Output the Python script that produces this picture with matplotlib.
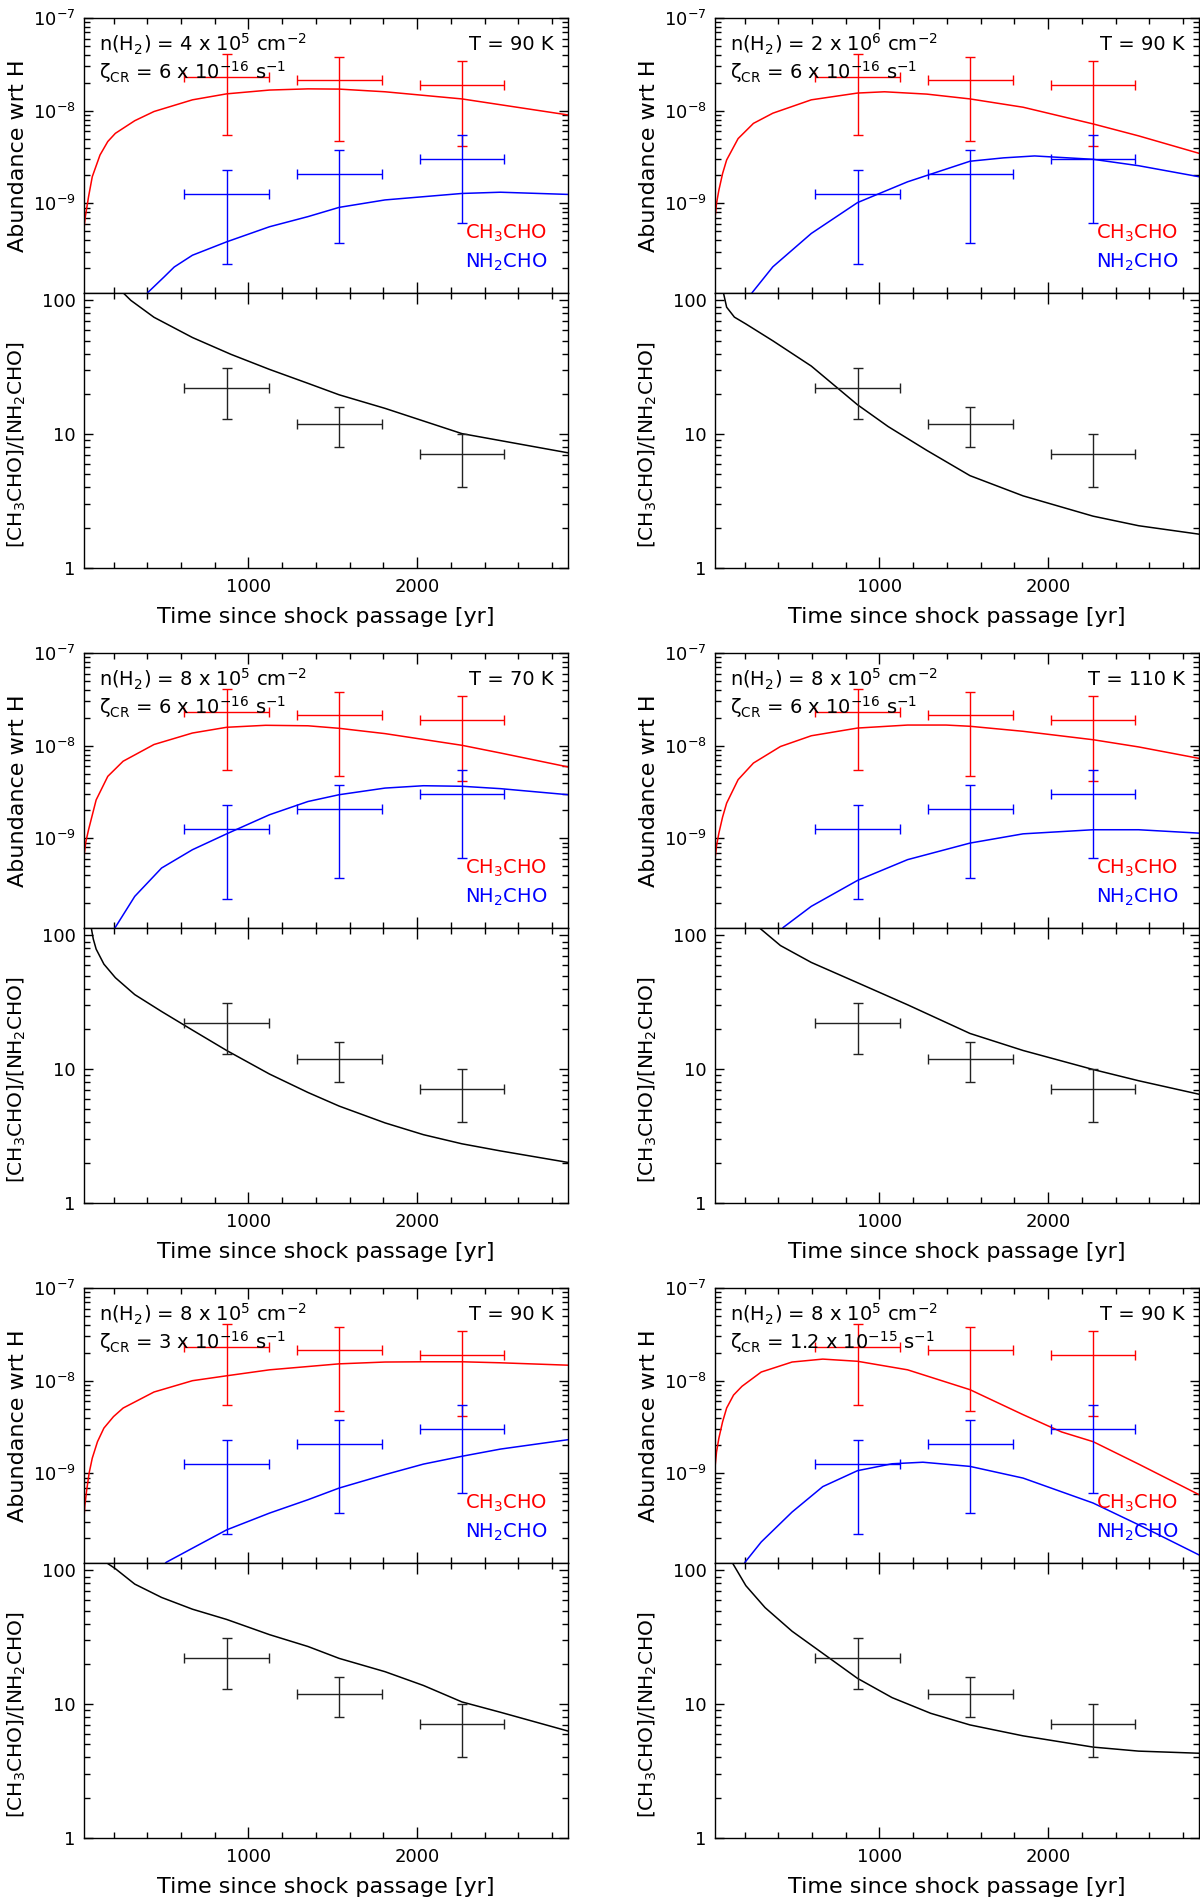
import math
import matplotlib
matplotlib.use("Agg")
import matplotlib.pyplot as plt
from matplotlib.ticker import LogLocator, MultipleLocator, FixedLocator, FuncFormatter, NullFormatter

plt.rcParams['font.family'] = ['DejaVu Sans']
plt.rcParams['mathtext.default'] = 'regular'

# observations (same in every panel)
obs_t = [870, 1540, 2265]
obs_terr = [250, 250, 250]
ch3cho_obs = [2.32e-8, 2.14e-8, 1.90e-8]
ch3cho_hi = [4.1e-8, 3.8e-8, 3.4e-8]
ch3cho_lo = [5.5e-9, 4.75e-9, 4.2e-9]
nh2cho_obs = [1.26e-9, 2.09e-9, 3.04e-9]
nh2cho_hi = [2.27e-9, 3.77e-9, 5.48e-9]
nh2cho_lo = [2.23e-10, 3.72e-10, 6.2e-10]
ratio_obs = [22.1, 12.0, 7.06]
ratio_hi = [31.0, 16.1, 10.1]
ratio_lo = [13.1, 8.0, 4.05]

# model parameters per panel
dens_txt = ["4 x 10$^5$", "2 x 10$^6$", "8 x 10$^5$", "8 x 10$^5$", "8 x 10$^5$", "8 x 10$^5$"]
zeta_txt = ["6 x 10$^{-16}$", "6 x 10$^{-16}$", "6 x 10$^{-16}$", "6 x 10$^{-16}$",
            "3 x 10$^{-16}$", "1.2 x 10$^{-15}$"]
temp_txt = ["90", "90", "70", "110", "90", "90"]

# model curves, panel a .. f
red_t_a = [25, 33, 52, 74, 120, 166, 211, 326, 440, 668, 871, 1125, 1353, 1538, 1810, 2266, 2895]
red_y_a = [5.4e-10, 7.2e-10, 1.18e-9, 1.94e-9, 3.33e-9, 4.65e-9, 5.7e-9, 7.8e-9, 9.8e-9, 1.31e-8,
           1.52e-8, 1.67e-8, 1.72e-8, 1.71e-8, 1.60e-8, 1.34e-8, 9.0e-9]
blue_t_a = [380, 405, 500, 560, 668, 871, 1125, 1353, 1538, 1810, 2266, 2494, 2895]
blue_y_a = [0.95e-10, 1.1e-10, 1.61e-10, 2.06e-10, 2.76e-10, 3.85e-10, 5.6e-10, 7.2e-10, 9.06e-10,
            1.09e-9, 1.28e-9, 1.32e-9, 1.25e-9]
rat_t_a = [230, 257, 303, 440, 668, 897, 1125, 1353, 1538, 1810, 2266, 2895]
rat_y_a = [125, 114, 100, 74.8, 52.8, 39.5, 30.5, 24.0, 19.7, 15.6, 10.1, 7.26]

red_t_b = [25, 34, 48, 70, 94, 162, 253, 368, 596, 870, 1030, 1281, 1537, 1852, 2267, 2537, 2895]
red_y_b = [6.9e-10, 1.0e-9, 1.39e-9, 2.1e-9, 2.94e-9, 5.0e-9, 7.3e-9, 9.4e-9, 1.31e-8, 1.55e-8,
           1.60e-8, 1.51e-8, 1.34e-8, 1.09e-8, 7.2e-9, 5.35e-9, 3.47e-9]
blue_t_b = [225, 247, 368, 596, 870, 1167, 1537, 1737, 1920, 2267, 2537, 2895]
blue_y_b = [0.95e-10, 1.1e-10, 2.07e-10, 4.74e-10, 1.02e-9, 1.71e-9, 2.85e-9, 3.1e-9, 3.25e-9,
            2.99e-9, 2.55e-9, 1.94e-9]
rat_t_b = [60, 75, 94, 140, 208, 368, 596, 870, 1052, 1281, 1537, 1852, 2267, 2537, 2895]
rat_y_b = [130, 114, 89, 75, 66.7, 49.9, 32.3, 16.6, 11.4, 7.57, 4.9, 3.46, 2.44, 2.07, 1.79]

red_t_c = [25, 36, 52, 97, 166, 257, 440, 668, 871, 1102, 1353, 1538, 1810, 2266, 2495, 2895]
red_y_c = [6.4e-10, 9.2e-10, 1.24e-9, 2.6e-9, 4.67e-9, 6.8e-9, 1.03e-8, 1.37e-8, 1.58e-8, 1.66e-8,
           1.64e-8, 1.54e-8, 1.35e-8, 1.01e-8, 8.34e-9, 5.9e-9]
blue_t_c = [190, 211, 326, 485, 668, 871, 1125, 1353, 1538, 1810, 2038, 2266, 2495, 2895]
blue_y_c = [0.95e-10, 1.1e-10, 2.37e-10, 4.79e-10, 7.55e-10, 1.12e-9, 1.8e-9, 2.5e-9, 2.96e-9,
            3.49e-9, 3.7e-9, 3.65e-9, 3.44e-9, 2.96e-9]
rat_t_c = [60, 68, 80, 97, 143, 211, 326, 485, 668, 871, 1125, 1353, 1538, 1810, 2038, 2266, 2495, 2895]
rat_y_c = [130, 114, 94, 79, 61, 48.3, 36.1, 27, 19.6, 13.8, 9.2, 6.7, 5.3, 3.97, 3.24, 2.77, 2.45, 2.01]

red_t_d = [25, 34, 48, 70, 94, 162, 253, 413, 596, 870, 1167, 1395, 1537, 1852, 2267, 2537, 2895]
red_y_d = [5.9e-10, 8.3e-10, 1.14e-9, 1.7e-9, 2.4e-9, 4.3e-9, 6.5e-9, 9.8e-9, 1.28e-8, 1.55e-8,
           1.67e-8, 1.67e-8, 1.62e-8, 1.43e-8, 1.16e-8, 9.7e-9, 7.3e-9]
blue_t_d = [400, 431, 596, 870, 1167, 1537, 1852, 2267, 2537, 2895]
blue_y_d = [0.95e-10, 1.1e-10, 1.85e-10, 3.52e-10, 5.9e-10, 8.9e-10, 1.12e-9, 1.24e-9, 1.24e-9, 1.14e-9]
rat_t_d = [260, 288, 413, 596, 870, 1167, 1537, 1852, 2267, 2537, 2895]
rat_y_d = [125, 114, 84, 62.8, 44.3, 30.3, 18.5, 13.8, 9.95, 8.2, 6.5]

red_t_e = [25, 30, 40, 55, 74, 105, 143, 200, 257, 440, 668, 871, 1125, 1538, 1810, 2038, 2266, 2495, 2895]
red_y_e = [3.3e-10, 4.5e-10, 6.4e-10, 1.0e-9, 1.46e-9, 2.2e-9, 3.08e-9, 4.1e-9, 5.07e-9, 7.55e-9,
           1.0e-8, 1.13e-8, 1.31e-8, 1.52e-8, 1.59e-8, 1.6e-8, 1.6e-8, 1.56e-8, 1.47e-8]
blue_t_e = [480, 513, 668, 871, 1125, 1353, 1538, 1810, 2038, 2266, 2495, 2895]
blue_y_e = [0.95e-10, 1.1e-10, 1.56e-10, 2.46e-10, 3.73e-10, 5.2e-10, 6.95e-10, 9.7e-10, 1.26e-9,
            1.53e-9, 1.83e-9, 2.31e-9]
rat_t_e = [140, 159, 211, 326, 485, 668, 871, 1125, 1353, 1538, 1810, 2038, 2266, 2495, 2895]
rat_y_e = [125, 114, 103, 79, 62.8, 51.3, 43, 33.1, 27, 22, 17.5, 13.8, 10.4, 8.7, 6.3]

red_t_f = [25, 34, 48, 70, 94, 135, 185, 299, 482, 664, 870, 1167, 1537, 1852, 2080, 2267, 2537, 2895]
red_y_f = [1.16e-9, 1.7e-9, 2.4e-9, 3.6e-9, 5.07e-9, 7.0e-9, 8.7e-9, 1.24e-8, 1.59e-8, 1.71e-8,
           1.62e-8, 1.31e-8, 8.0e-9, 4.3e-9, 2.8e-9, 2.2e-9, 1.26e-9, 5.9e-10]
blue_t_f = [185, 203, 299, 482, 664, 870, 1075, 1258, 1537, 1852, 2267, 2537, 2895]
blue_y_f = [0.95e-10, 1.1e-10, 1.82e-10, 3.83e-10, 7.2e-10, 1.07e-9, 1.27e-9, 1.32e-9, 1.19e-9,
            8.9e-10, 4.79e-10, 2.79e-10, 1.32e-10]
rat_t_f = [110, 128, 208, 322, 482, 664, 870, 1075, 1304, 1537, 1852, 2267, 2537, 2895]
rat_y_f = [130, 114, 76.9, 52.7, 35.1, 24, 15.6, 11.2, 8.55, 7.0, 5.8, 4.78, 4.46, 4.3]

models = [
    (red_t_a, red_y_a, blue_t_a, blue_y_a, rat_t_a, rat_y_a),
    (red_t_b, red_y_b, blue_t_b, blue_y_b, rat_t_b, rat_y_b),
    (red_t_c, red_y_c, blue_t_c, blue_y_c, rat_t_c, rat_y_c),
    (red_t_d, red_y_d, blue_t_d, blue_y_d, rat_t_d, rat_y_d),
    (red_t_e, red_y_e, blue_t_e, blue_y_e, rat_t_e, rat_y_e),
    (red_t_f, red_y_f, blue_t_f, blue_y_f, rat_t_f, rat_y_f),
]

W, H = 1200, 1902
fig = plt.figure(figsize=(W / 100, H / 100), dpi=100)

col_left = [84, 715]
ax_w = 484
row_top = [18, 653, 1288]
ax_h = 275


def px_axes(x0, y0, w, h):
    return fig.add_axes([x0 / W, 1 - (y0 + h) / H, w / W, h / H])


def style(ax):
    ax.tick_params(which='both', direction='in', top=True, right=True, labelsize=13, width=1.0)
    ax.tick_params(which='major', axis='x', length=8, pad=7)
    ax.tick_params(which='minor', axis='x', length=4.5)
    ax.tick_params(which='major', axis='y', length=6.5, pad=6)
    ax.tick_params(which='minor', axis='y', length=4)
    for s in ax.spines.values():
        s.set_linewidth(1.0)
    ax.set_xlim(25, 2895)
    ax.xaxis.set_major_locator(FixedLocator([1000, 2000]))
    ax.xaxis.set_minor_locator(MultipleLocator(200))


def log_err(mid, lo, hi):
    return [[a - b for a, b in zip(mid, lo)], [b - a for a, b in zip(mid, hi)]]


for i in range(6):
    r, c = divmod(i, 2)
    red_t, red_y, blue_t, blue_y, rat_t, rat_y = models[i]
    x0 = col_left[c]
    y0 = row_top[r]

    ax1 = px_axes(x0, y0, ax_w, ax_h)
    ax2 = px_axes(x0, y0 + ax_h, ax_w, ax_h)

    # abundances
    ax1.set_yscale('log')
    style(ax1)
    ax1.set_ylim(1.08e-10, 1e-7)
    ax1.yaxis.set_major_locator(FixedLocator([1e-9, 1e-8, 1e-7]))
    ax1.yaxis.set_minor_locator(LogLocator(base=10, subs=range(2, 10), numticks=10))
    ax1.yaxis.set_major_formatter(FuncFormatter(lambda v, p: "10$^{%d}$" % round(math.log10(v))))
    ax1.yaxis.set_minor_formatter(NullFormatter())
    ax1.xaxis.set_major_formatter(NullFormatter())
    ax1.plot(red_t, red_y, color='red', lw=1.1)
    ax1.plot(blue_t, blue_y, color='blue', lw=1.1)
    ax1.errorbar(obs_t, ch3cho_obs, xerr=obs_terr, yerr=log_err(ch3cho_obs, ch3cho_lo, ch3cho_hi),
                 fmt='none', ecolor='red', elinewidth=1.0, capsize=3.5, capthick=1.0)
    ax1.errorbar(obs_t, nh2cho_obs, xerr=obs_terr, yerr=log_err(nh2cho_obs, nh2cho_lo, nh2cho_hi),
                 fmt='none', ecolor='blue', elinewidth=1.0, capsize=3.5, capthick=1.0)
    ax1.set_ylabel("Abundance wrt H", fontsize=16)
    ax1.yaxis.set_label_coords(-0.115, 0.5)
    ax1.text(0.032, 0.905, "n(H$_2$) = " + dens_txt[i] + " cm$^{-2}$", transform=ax1.transAxes,
             fontsize=14, ha='left', va='center')
    ax1.text(0.032, 0.805, "$\\zeta_{CR}$ = " + zeta_txt[i] + " s$^{-1}$", transform=ax1.transAxes,
             fontsize=14, ha='left', va='center')
    ax1.text(0.97, 0.905, "T = " + temp_txt[i] + " K", transform=ax1.transAxes,
             fontsize=14, ha='right', va='center')
    ax1.text(0.788, 0.216, "CH$_3$CHO", color='red', transform=ax1.transAxes,
             fontsize=14, ha='left', va='center')
    ax1.text(0.788, 0.113, "NH$_2$CHO", color='blue', transform=ax1.transAxes,
             fontsize=14, ha='left', va='center')

    # ratio
    ax2.set_yscale('log')
    style(ax2)
    ax2.set_ylim(1, 113.6)
    ax2.yaxis.set_major_locator(FixedLocator([1, 10, 100]))
    ax2.yaxis.set_minor_locator(LogLocator(base=10, subs=range(2, 10), numticks=10))
    ax2.yaxis.set_major_formatter(FuncFormatter(lambda v, p: "%d" % v))
    ax2.yaxis.set_minor_formatter(NullFormatter())
    ax2.xaxis.set_major_formatter(FuncFormatter(lambda v, p: "%d" % v))
    ax2.plot(rat_t, rat_y, color='black', lw=1.1)
    ax2.errorbar(obs_t, ratio_obs, xerr=obs_terr, yerr=log_err(ratio_obs, ratio_lo, ratio_hi),
                 fmt='none', ecolor='#222222', elinewidth=1.0, capsize=3.5, capthick=1.0)
    ax2.set_ylabel("[CH$_3$CHO]/[NH$_2$CHO]", fontsize=14.5)
    ax2.yaxis.set_label_coords(-0.115, 0.45)
    ax2.set_xlabel("Time since shock passage [yr]", fontsize=16, labelpad=8)

fig.savefig("out.png", dpi=100)
